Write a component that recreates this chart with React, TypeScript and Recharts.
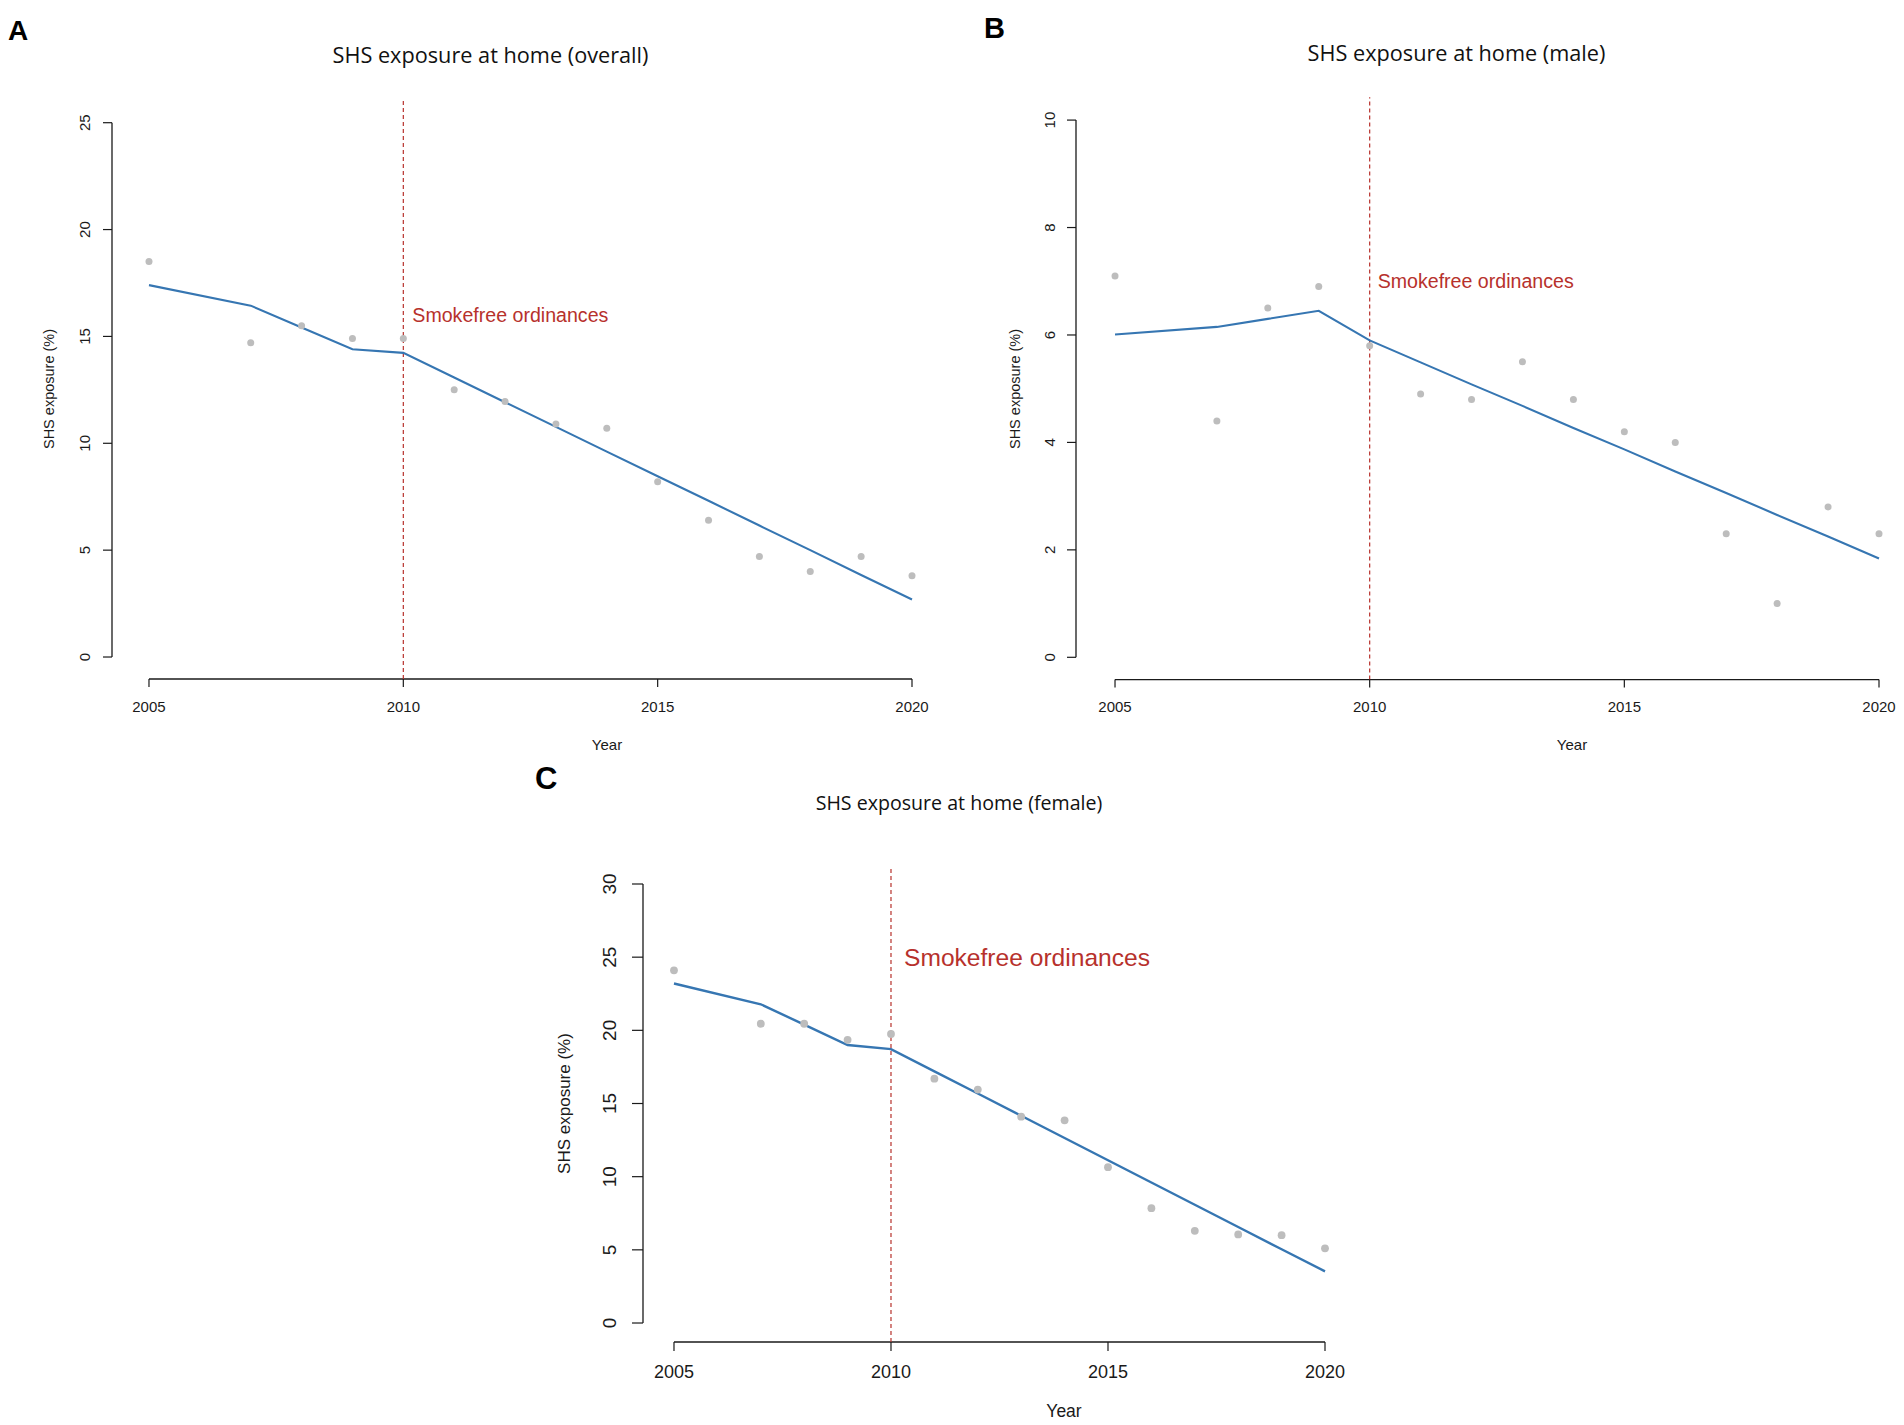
import React from 'react'
import { ComposedChart, Line, XAxis, YAxis, ReferenceLine, ReferenceDot } from 'recharts'

// survey years (no 2006 wave)
const YEARS = [2005, 2007, 2008, 2009, 2010, 2011, 2012, 2013, 2014, 2015, 2016, 2017, 2018, 2019, 2020]
const YEAR_TICKS = [2005, 2010, 2015, 2020]
const POLICY_YEAR = 2010
const NOTE = 'Smokefree ordinances'

// observed prevalence (grey dots) and segmented-regression fit (blue line), %
const OVERALL_OBS = [18.5, 14.7, 15.5, 14.9, 14.9, 12.5, 11.95, 10.9, 10.7, 8.2, 6.4, 4.7, 4.0, 4.7, 3.8]
const OVERALL_FIT = [17.4, 16.44, 15.42, 14.4, 14.23, 13.08, 11.92, 10.77, 9.61, 8.46, 7.31, 6.15, 5.0, 3.84, 2.69]
const MALE_OBS = [7.1, 4.4, 6.5, 6.9, 5.8, 4.9, 4.8, 5.5, 4.8, 4.2, 4.0, 2.3, 1.0, 2.8, 2.3]
const MALE_FIT = [6.01, 6.15, 6.3, 6.45, 5.9, 5.49, 5.08, 4.68, 4.27, 3.87, 3.46, 3.06, 2.65, 2.25, 1.84]
const FEMALE_OBS = [24.1, 20.45, 20.45, 19.35, 19.75, 16.7, 15.95, 14.1, 13.85, 10.65, 7.85, 6.3, 6.05, 6.0, 5.1]
const FEMALE_FIT = [23.2, 21.78, 20.39, 19.0, 18.72, 17.2, 15.68, 14.16, 12.64, 11.12, 9.6, 8.08, 6.56, 5.04, 3.53]

const OVERALL_TICKS = [0, 5, 10, 15, 20, 25]
const MALE_TICKS = [0, 2, 4, 6, 8, 10]
const FEMALE_TICKS = [0, 5, 10, 15, 20, 25, 30]

const BLUE = '#3676b2'
const GREY = '#bdbdbd'
const RED = '#b7312c'
const INK = '#1a1a1a'
const SANS = '"Liberation Sans", Arial, sans-serif'
const TITLE_FONT = '"Open Sans", "Noto Sans", sans-serif'

type Box = { left: number; top: number; width: number; height: number }
type Margin = { top: number; right: number; bottom: number; left: number }

type PanelProps = {
  obs: number[]
  fit: number[]
  yTicks: number[]
  xDomain: [number, number]
  yDomain: [number, number]
  box: Box
  margin: Margin
  yAxisWidth: number
  xAxisHeight: number
  xFont: number
  yFont: number
  xTickLen: number
  yTickLen: number
  xTickGap: number
  yTickGap: number
  dotR: number
  lineW: number
  noteY: number
  noteSize: number
  noteOffset: number
}

function Panel(p: PanelProps) {
  const rows = YEARS.map((year, i) => ({ year, obs: p.obs[i], fit: p.fit[i] }))
  const yTop = p.yTicks[p.yTicks.length - 1]
  const xMin = p.xDomain[0]
  const yMin = p.yDomain[0]

  // R draws y tick labels parallel to the axis
  const rotTick = (props: any) => {
    const { x, y, payload } = props
    return (
      <text x={x} y={y} transform={`rotate(-90 ${x} ${y})`} textAnchor="middle" fontSize={p.yFont} fill={INK}>
        {payload.value}
      </text>
    )
  }

  return (
    <div style={{ position: 'absolute', ...p.box, fontFamily: SANS }}>
      <ComposedChart width={p.box.width} height={p.box.height} data={rows} margin={p.margin}>
        <XAxis
          type="number"
          dataKey="year"
          domain={p.xDomain}
          ticks={YEAR_TICKS}
          interval={0}
          axisLine={false}
          tickLine={{ stroke: INK, strokeWidth: 1.2 }}
          tickSize={p.xTickLen}
          tickMargin={p.xTickGap}
          tick={{ fill: INK, fontSize: p.xFont }}
          height={p.xAxisHeight}
        />
        <YAxis
          type="number"
          domain={p.yDomain}
          ticks={p.yTicks}
          interval={0}
          axisLine={false}
          tickLine={{ stroke: INK, strokeWidth: 1.2 }}
          tickSize={p.yTickLen}
          tickMargin={p.yTickGap}
          tick={rotTick}
          width={p.yAxisWidth}
        />
        {/* R-style detached axis lines, first to last tick */}
        <ReferenceLine segment={[{ x: YEAR_TICKS[0], y: yMin }, { x: YEAR_TICKS[YEAR_TICKS.length - 1], y: yMin }]} stroke={INK} strokeWidth={1.3} />
        <ReferenceLine segment={[{ x: xMin, y: 0 }, { x: xMin, y: yTop }]} stroke={INK} strokeWidth={1.3} />
        <ReferenceLine x={POLICY_YEAR} stroke={RED} strokeDasharray="4 3" strokeWidth={1.2} />
        <Line dataKey="obs" stroke="none" dot={{ r: p.dotR, fill: GREY, stroke: 'none' }} activeDot={false} isAnimationActive={false} />
        <Line dataKey="fit" type="linear" stroke={BLUE} strokeWidth={p.lineW} dot={false} activeDot={false} isAnimationActive={false} />
        <ReferenceDot
          x={POLICY_YEAR}
          y={p.noteY}
          r={1}
          fill="none"
          stroke="none"
          label={{ value: NOTE, position: 'right', offset: p.noteOffset, fill: RED, fontSize: p.noteSize }}
        />
      </ComposedChart>
    </div>
  )
}

export default function App() {
  return (
    <div style={{ position: 'absolute', left: 0, top: 0, width: 1904, height: 1425, background: '#fff' }}>
      <Panel
        obs={OVERALL_OBS}
        fit={OVERALL_FIT}
        yTicks={OVERALL_TICKS}
        xDomain={[2004.273, 2020]}
        yDomain={[-1.029, 26.123]}
        box={{ left: 0, top: 0, width: 960, height: 760 }}
        margin={{ top: 98.7, right: 48, bottom: 41, left: 82 }}
        yAxisWidth={30}
        xAxisHeight={40}
        xFont={15}
        yFont={15}
        xTickLen={8}
        yTickLen={9}
        xTickGap={14.5}
        yTickGap={12.6}
        dotR={3.5}
        lineW={2.1}
        noteY={16}
        noteSize={19.6}
        noteOffset={8}
      />
      <Panel
        obs={MALE_OBS}
        fit={MALE_FIT}
        yTicks={MALE_TICKS}
        xDomain={[2004.234, 2020]}
        yDomain={[-0.415, 10.426]}
        box={{ left: 960, top: 0, width: 944, height: 760 }}
        margin={{ top: 97.2, right: 25, bottom: 40.4, left: 86 }}
        yAxisWidth={30}
        xAxisHeight={40}
        xFont={15}
        yFont={15}
        xTickLen={8}
        yTickLen={9}
        xTickGap={14}
        yTickGap={12}
        dotR={3.5}
        lineW={2.1}
        noteY={7}
        noteSize={19.6}
        noteOffset={7}
      />
      <Panel
        obs={FEMALE_OBS}
        fit={FEMALE_FIT}
        yTicks={FEMALE_TICKS}
        xDomain={[2004.286, 2020]}
        yDomain={[-1.298, 31.23]}
        box={{ left: 520, top: 760, width: 880, height: 665 }}
        margin={{ top: 106, right: 75, bottom: 38, left: 83 }}
        yAxisWidth={40}
        xAxisHeight={45}
        xFont={18}
        yFont={19}
        xTickLen={9}
        yTickLen={11}
        xTickGap={14.5}
        yTickGap={15.7}
        dotR={3.9}
        lineW={2.4}
        noteY={25}
        noteSize={24.6}
        noteOffset={12}
      />
      <svg width={1904} height={1425} style={{ position: 'absolute', left: 0, top: 0, pointerEvents: 'none' }}>
        <g fontFamily={SANS} fontWeight="bold" fill="#000" dominantBaseline="central">
          <text x={8} y={30} fontSize={28}>A</text>
          <text x={984} y={28} fontSize={29}>B</text>
          <text x={535} y={778} fontSize={31}>C</text>
        </g>
        <g fontFamily={TITLE_FONT} fill="#111" textAnchor="middle" dominantBaseline="central">
          <text x={490.5} y={54} fontSize={21.7}>SHS exposure at home (overall)</text>
          <text x={1456.5} y={52.5} fontSize={21.7}>SHS exposure at home (male)</text>
          <text x={959} y={802} fontSize={19.6}>SHS exposure at home (female)</text>
        </g>
        <g fontFamily={SANS} fill={INK} textAnchor="middle" dominantBaseline="central">
          <text transform="translate(48.5 389) rotate(-90)" fontSize={14.5}>SHS exposure (%)</text>
          <text transform="translate(1014.5 389) rotate(-90)" fontSize={14.5}>SHS exposure (%)</text>
          <text transform="translate(564 1103.5) rotate(-90)" fontSize={17}>SHS exposure (%)</text>
          <text x={607} y={744} fontSize={15}>Year</text>
          <text x={1572} y={744} fontSize={15}>Year</text>
          <text x={1064} y={1411} fontSize={17.5}>Year</text>
        </g>
      </svg>
    </div>
  )
}
